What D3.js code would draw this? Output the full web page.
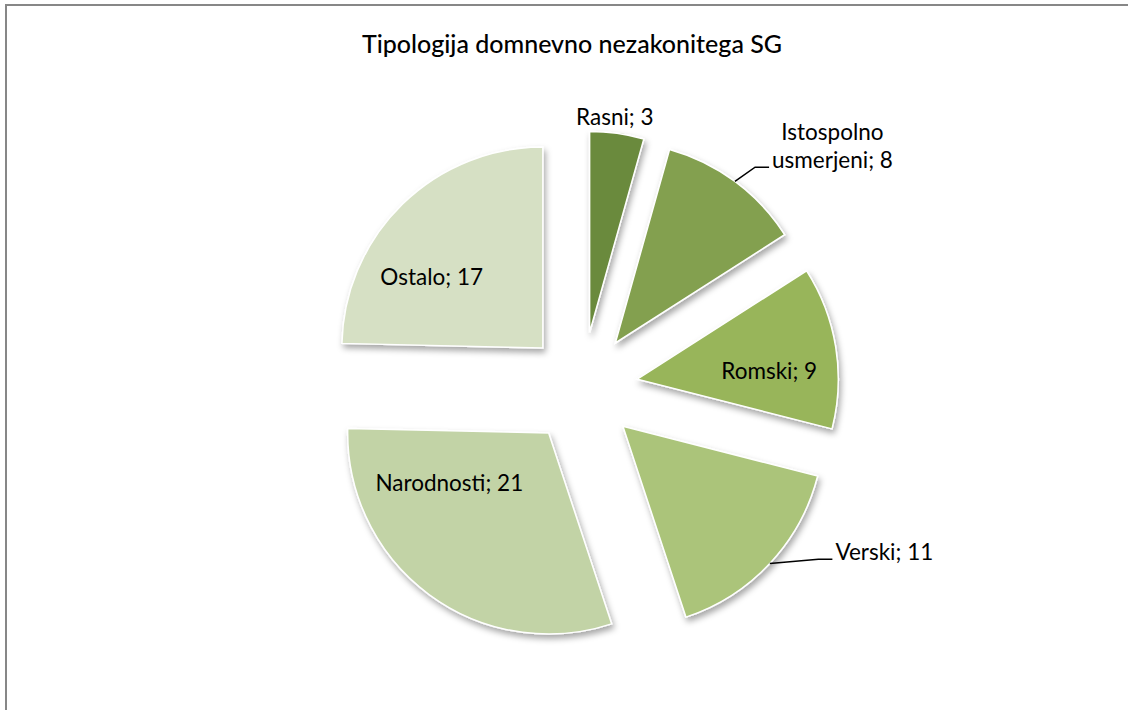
<!DOCTYPE html>
<html>
<head>
<meta charset="utf-8">
<script src="https://cdn.jsdelivr.net/npm/d3@7"></script>
<style>
  body { margin: 0; background: #fff; }
  text { font-family: Lato, "Open Sans", sans-serif; fill: #000; }
</style>
</head>
<body>
<div id="chart"></div>
<script>
// data
const categories = ["Rasni", "Istospolno usmerjeni", "Romski", "Verski", "Narodnosti", "Ostalo"];
const values = [3, 8, 9, 11, 21, 17];
const colors = ["#6b8a3c", "#83a04f", "#98b55a", "#abc47a", "#c2d3a6", "#d6e0c4"];
const title = "Tipologija domnevno nezakonitega SG";

// chart dimensions
let dimensions = {
  width: 1128,
  height: 710,
  cx: 582,
  cy: 388,
  radius: 201,
  explode: 56,
};

// label placement: [radius from center, angle in degrees, outside?]
const labelPlace = [
  [273, 6.9, true],
  [358, 44.4, true],
  [188, 84.8, false],
  [344, 118.5, true],
  [163, 234.5, false],
  [187, 306.5, false],
];

const svg = d3
  .select("#chart")
  .append("svg")
  .attr("width", dimensions.width)
  .attr("height", dimensions.height);

// drop shadow
const defs = svg.append("defs");
defs
  .append("filter")
  .attr("id", "shadow")
  .attr("x", "-20%")
  .attr("y", "-20%")
  .attr("width", "140%")
  .attr("height", "140%")
  .append("feDropShadow")
  .attr("dx", 2)
  .attr("dy", 4)
  .attr("stdDeviation", 3)
  .attr("flood-color", "#000")
  .attr("flood-opacity", 0.35);

// outer frame (only top and left visible)
svg
  .append("rect")
  .attr("x", 6)
  .attr("y", 5)
  .attr("width", 1400)
  .attr("height", 1000)
  .attr("fill", "none")
  .attr("stroke", "#878787")
  .attr("stroke-width", 2);

svg
  .append("text")
  .attr("x", 572)
  .attr("y", 53)
  .attr("text-anchor", "middle")
  .attr("font-size", 25)
  .attr("font-weight", 500)
  .text(title);

const dataset = categories.map((c, i) => ({ name: c, value: values[i], color: colors[i] }));

const pie = d3.pie().sort(null).value((d) => d.value).startAngle(0);
const arcs = pie(dataset);

const arc = d3.arc().innerRadius(0).outerRadius(dimensions.radius);

const polar = (r, a) => [r * Math.sin(a), -r * Math.cos(a)];
const mid = (d) => (d.startAngle + d.endAngle) / 2;

const bounds = svg
  .append("g")
  .attr("transform", `translate(${dimensions.cx}, ${dimensions.cy})`);

bounds
  .selectAll("path.slice")
  .data(arcs)
  .join("path")
  .attr("class", "slice")
  .attr("transform", (d) => {
    const [x, y] = polar(dimensions.explode, mid(d));
    return `translate(${x}, ${y})`;
  })
  .attr("d", arc)
  .attr("fill", (d) => d.data.color)
  .attr("stroke", "#fff")
  .attr("stroke-width", 1.5)
  .attr("filter", "url(#shadow)");

// labels
const labelSize = 22.5;
arcs.forEach((d, i) => {
  const [r, deg, outside] = labelPlace[i];
  const [lx, ly] = polar(r, (deg * Math.PI) / 180);
  const label = `${d.data.name}; ${d.data.value}`;
  let lines = [label];
  if (d.data.name === "Istospolno usmerjeni") lines = ["Istospolno", "usmerjeni; " + d.data.value];

  const t = bounds
    .append("text")
    .attr("text-anchor", "middle")
    .attr("font-size", labelSize);
  lines.forEach((ln, j) => {
    t.append("tspan")
      .attr("x", lx)
      .attr("y", ly + 8 + j * 28)
      .text(ln);
  });

  // leader lines for the two labels that sit away from their slices
  if (outside && lines.length > 1 || d.data.name === "Verski") {
    const [ox, oy] = polar(dimensions.explode, mid(d));
    const [ax, ay] = polar(dimensions.radius, mid(d));
    const bb = t.node().getBBox();
    const lastY = ly + 8 + (lines.length - 1) * 28;
    const endX = bb.x - 3;
    const endY = lastY - 1;
    bounds
      .append("path")
      .attr(
        "d",
        d3.line()([
          [ox + ax, oy + ay],
          [endX - 14, endY],
          [endX, endY],
        ]),
      )
      .attr("fill", "none")
      .attr("stroke", "#000")
      .attr("stroke-width", 1.5);
  }
});
</script>
</body>
</html>
